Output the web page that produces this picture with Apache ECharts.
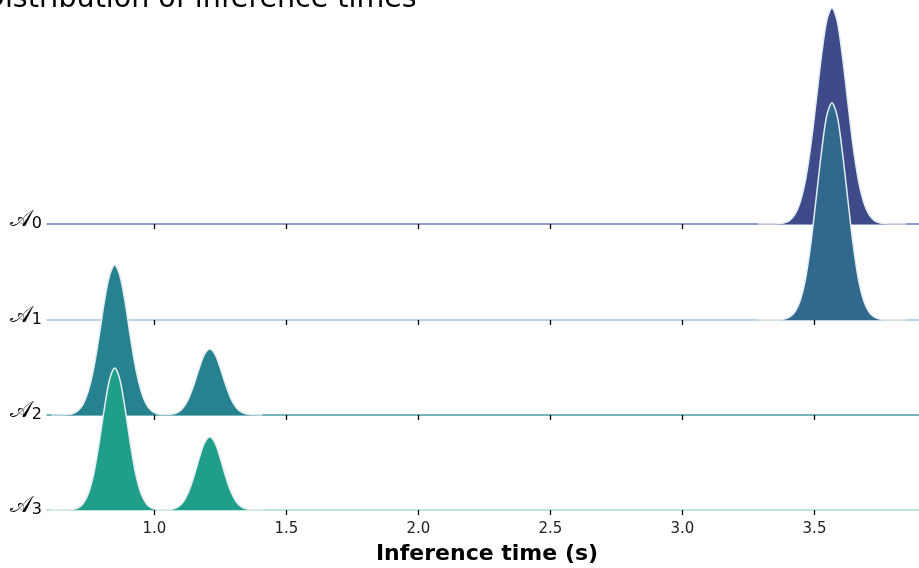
<!DOCTYPE html>
<html>
<head>
<meta charset="utf-8">
<script src="https://cdn.jsdelivr.net/npm/echarts@6/dist/echarts.min.js"></script>
<style>
html,body{margin:0;padding:0;background:#fff;}
#chart{width:919px;height:568px;}
</style>
</head>
<body>
<div id="chart"></div>
<script>
// ---- data ----
var rowNames = ['0', '1', '2', '3'];          // subscripts of the calligraphic A row labels
var tickValues = [1.0, 1.5, 2.0, 2.5, 3.0, 3.5];

// sample positions (s) for the upper two ridges (single mode near 3.566 s)
var xHigh = [
  3.286, 3.306, 3.326, 3.346, 3.366, 3.386, 3.406, 3.426, 3.446, 3.466, 3.486, 3.506, 3.526, 3.546,
  3.566,
  3.586, 3.606, 3.626, 3.646, 3.666, 3.686, 3.706, 3.726, 3.746, 3.766, 3.786, 3.806, 3.826, 3.846];
var densA0 = [
  0, 0, 0, 0.001, 0.004, 0.012, 0.037, 0.095, 0.22, 0.44, 0.78, 1.22, 1.67, 2.03,
  2.16,
  2.03, 1.67, 1.22, 0.78, 0.44, 0.22, 0.095, 0.037, 0.012, 0.004, 0.001, 0, 0, 0];
var densA1 = [
  0, 0, 0, 0, 0.002, 0.009, 0.030, 0.082, 0.195, 0.41, 0.76, 1.21, 1.67, 2.04,
  2.17,
  2.04, 1.67, 1.21, 0.76, 0.41, 0.195, 0.082, 0.030, 0.009, 0.002, 0, 0, 0, 0];

// sample positions (s) for the lower two ridges (modes near 0.85 s and 1.21 s)
var xLow = [0.61, 0.63, 0.65, 0.67, 0.69, 0.71, 0.73, 0.75, 0.77, 0.79,
  0.81, 0.83, 0.85, 0.87, 0.89, 0.91, 0.93, 0.95, 0.97, 0.99,
  1.01, 1.03, 1.05, 1.07, 1.09, 1.11, 1.13, 1.15, 1.17, 1.19,
  1.21, 1.23, 1.25, 1.27, 1.29, 1.31, 1.33, 1.35, 1.37, 1.39, 1.41];
var densA2 = [0, 0, 0.001, 0.004, 0.013, 0.040, 0.105, 0.24, 0.46, 0.77,
  1.12, 1.39, 1.50, 1.39, 1.12, 0.77, 0.46, 0.24, 0.105, 0.040,
  0.013, 0.005, 0.004, 0.009, 0.029, 0.075, 0.164, 0.302, 0.467, 0.605,
  0.66, 0.605, 0.467, 0.302, 0.164, 0.075, 0.029, 0.009, 0.003, 0.001, 0];
var densA3 = [0, 0, 0, 0.001, 0.006, 0.020, 0.062, 0.162, 0.354, 0.65,
  1.00, 1.30, 1.42, 1.30, 1.00, 0.65, 0.354, 0.162, 0.062, 0.020,
  0.006, 0.002, 0.003, 0.010, 0.032, 0.083, 0.182, 0.334, 0.516, 0.67,
  0.73, 0.67, 0.516, 0.334, 0.182, 0.083, 0.032, 0.010, 0.003, 0.001, 0];

var xs = [xHigh, xHigh, xLow, xLow];
var dens = [densA0, densA1, densA2, densA3];

// ---- styles / layout ----
var fills = ['#3e4a89', '#31688e', '#26828e', '#1f9e89'];
var baseColors = ['#6f7cb8', '#a9c3d8', '#4a9ca6', '#addcd2'];
var baselines = [224, 320, 415, 510];
var rowHeight = 224;
var yMax = 2.24;
var xMin = 0.5936, xMax = 3.926;
var FONT = 'DejaVu Sans';

var grids = [], xAxes = [], yAxes = [], series = [];
for (var i = 0; i < 4; i++) {
  var last = (i === 3);
  grids.push({left: 47, right: -8, top: baselines[i] - rowHeight, height: rowHeight,
    containLabel: false, outerBoundsMode: 'none'});
  xAxes.push({
    type: 'value', gridIndex: i, min: xMin, max: xMax,
    axisLine: {show: true, lineStyle: {color: baseColors[i], width: 1.5}},
    axisTick: {show: true, length: 5, inside: false, customValues: tickValues, lineStyle: {color: '#000', width: 1.3}},
    axisLabel: {show: last, customValues: tickValues, margin: 12, color: '#222', fontSize: 15, fontFamily: FONT,
      formatter: function (v) { return v.toFixed(1); }},
    splitLine: {show: false},
    name: last ? 'Inference time (s)' : '',
    nameLocation: 'middle', nameGap: 33,
    nameTextStyle: {fontFamily: FONT, fontWeight: 'bold', fontSize: 22, color: '#000'}
  });
  yAxes.push({
    type: 'value', gridIndex: i, min: 0, max: yMax,
    axisLine: {show: false}, axisTick: {show: false}, splitLine: {show: false},
    axisLabel: {show: true, customValues: [0], margin: 5, color: '#000',
      fontFamily: FONT, verticalAlign: 'middle', padding: [0, 0, 8, 0],
      formatter: (function (s) { return function () { return '{a|𝒜}{s|' + s + '}'; }; })(rowNames[i]),
      rich: {
        a: {fontSize: 23, lineHeight: 24, fontFamily: FONT, color: '#000', verticalAlign: 'bottom'},
        s: {fontSize: 16, lineHeight: 16, fontFamily: FONT, color: '#000', verticalAlign: 'bottom'}
      }}
  });
  var d = [];
  for (var j = 0; j < xs[i].length; j++) d.push([xs[i][j], dens[i][j]]);
  series.push({
    type: 'line', xAxisIndex: i, yAxisIndex: i, data: d,
    smooth: 0.3, symbol: 'none', z: 2 + i,
    lineStyle: {color: '#e3edf1', width: 1.5},
    areaStyle: {color: fills[i], opacity: 1}
  });
}

var chart = echarts.init(document.getElementById('chart'), null, {renderer: 'canvas'});
chart.setOption({
  animation: false,
  backgroundColor: '#fff',
  title: {text: 'Distribution of inference times', left: -22, top: -20,
    textStyle: {fontFamily: FONT, fontWeight: 'normal', fontSize: 28.5, color: '#000'}},
  grid: grids, xAxis: xAxes, yAxis: yAxes, series: series
});
</script>
</body>
</html>
